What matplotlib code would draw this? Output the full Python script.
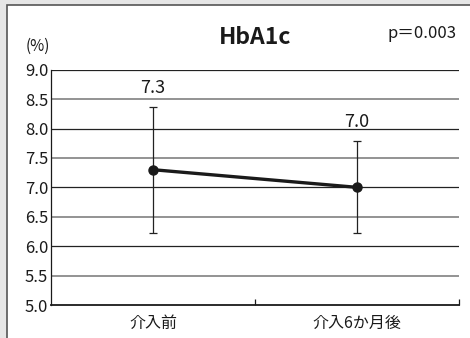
import matplotlib
matplotlib.use("Agg")
import matplotlib.pyplot as plt
from matplotlib.patches import Rectangle

plt.rcParams['font.family'] = ['Noto Sans CJK JP', 'DejaVu Sans']

categories = ['介入前', '介入6か月後']
means = [7.3, 7.0]
sds = [1.07, 0.78]
labels = ['7.3', '7.0']
yticks = [5.0, 5.5, 6.0, 6.5, 7.0, 7.5, 8.0, 8.5, 9.0]
title = 'HbA1c'
ptext = 'p＝0.003'
unit = '(%)'

W, H = 470, 338
fig = plt.figure(figsize=(W / 100, H / 100), dpi=100)
fig.patch.set_facecolor('#e6e6e6')
fig.patches.append(Rectangle((7 / W, -0.1), 1, 1.1 - 5 / H, transform=fig.transFigure,
                             facecolor='white', edgecolor='#555555', linewidth=1.2,
                             zorder=-5))

ax = fig.add_axes([51 / W, 33 / H, (459 - 51) / W, (305 - 69.7) / H])
ax.set_facecolor('none')
ax.set_xlim(-0.5, 1.5)
ax.set_ylim(5.0, 9.0)

for v in yticks[1:]:
    if abs(v - round(v)) < 1e-6:
        ax.axhline(v, color='#222222', lw=0.9, zorder=1)
    else:
        ax.axhline(v, color='#8a8a8a', lw=1.3, zorder=1)

x = list(range(len(categories)))
ax.errorbar(x, means, yerr=sds, fmt='none', ecolor='#222222', elinewidth=0.9,
            capsize=3, capthick=0.9, zorder=3)
ax.plot(x, means, color='#1a1a1a', lw=2.4, marker='o', markersize=6.5, zorder=4)

for xi, m, s, lab in zip(x, means, sds, labels):
    ax.text(xi, m + s + 0.17, lab, ha='center', va='bottom', fontsize=13, color='#1a1a1a')

ax.set_yticks(yticks)
ax.set_yticklabels([f'{v:.1f}' for v in yticks], fontsize=12)
ax.tick_params(axis='y', length=0, pad=2, colors='#1a1a1a')
ax.set_xticks(x)
ax.set_xticklabels(categories, fontsize=11.5)
ax.tick_params(axis='x', which='major', length=0, pad=7, colors='#1a1a1a')
ax.set_xticks([0.5, 1.5], minor=True)
ax.tick_params(axis='x', which='minor', direction='in', length=4, width=0.9, color='#1a1a1a')

for sp in ['top', 'right']:
    ax.spines[sp].set_visible(False)
ax.spines['bottom'].set_linewidth(1.3)
ax.spines['bottom'].set_color('#1a1a1a')
ax.spines['left'].set_linewidth(0.9)
ax.spines['left'].set_color('#1a1a1a')

fig.text(255 / W, 1 - 37 / H, title, ha='center', va='center', fontsize=16.5,
         fontweight='bold', color='#1a1a1a')
fig.text(422 / W, 1 - 33 / H, ptext, ha='center', va='center', fontsize=12, color='#1a1a1a')
fig.text(38 / W, 1 - 46 / H, unit, ha='center', va='center', fontsize=11, color='#1a1a1a')

fig.savefig('out.png', dpi=100, facecolor=fig.get_facecolor())
